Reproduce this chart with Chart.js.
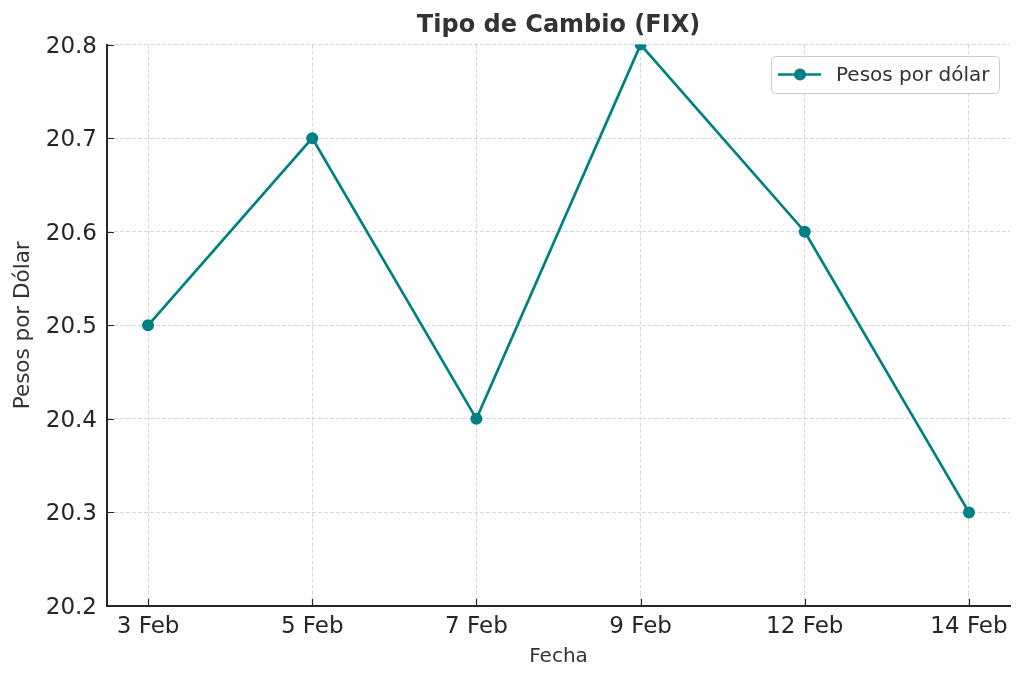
<!DOCTYPE html>
<html>
<head>
<meta charset="utf-8">
<script src="https://cdn.jsdelivr.net/npm/chart.js@4"></script>
<style>
	html, body { margin: 0; padding: 0; background: #fff; }
	#wrap { width: 1024px; height: 681px; }
</style>
</head>
<body>
<div id="wrap"><canvas id="fixChart" width="1024" height="681"></canvas></div>
<script>
// datos del tipo de cambio
const fechas = ['3 Feb', '5 Feb', '7 Feb', '9 Feb', '12 Feb', '14 Feb'];
const pesosPorDolar = [20.5, 20.7, 20.4, 20.8, 20.6, 20.3];
const yTicks = [20.2, 20.3, 20.4, 20.5, 20.6, 20.7, 20.8];

const teal = '#008080';
const dark = '#262626';
const gridColor = '#d6d6d6';
const font = "'DejaVu Sans', sans-serif";
const tituloTexto = 'Tipo de Cambio (FIX)';

const puntos = fechas.map((f, i) => ({ x: i, y: pesosPorDolar[i] }));

// ticks hacia dentro, como en matplotlib
const innerTicks = {
	id: 'innerTicks',
	afterDraw(chart){
		const ctx = chart.ctx;
		const area = chart.chartArea;
		const x = chart.scales.x, y = chart.scales.y;
		ctx.save();
		ctx.strokeStyle = dark;
		ctx.lineWidth = 1.2;
		ctx.beginPath();
		x.ticks.forEach(t => {
			const px = Math.round(x.getPixelForValue(t.value)) + 0.5;
			ctx.moveTo(px, area.bottom);
			ctx.lineTo(px, area.bottom - 7);
		});
		y.ticks.forEach(t => {
			const py = Math.round(y.getPixelForValue(t.value)) + 0.5;
			ctx.moveTo(area.left, py);
			ctx.lineTo(area.left + 7, py);
		});
		ctx.stroke();
		ctx.restore();
	}
};

// titulo centrado sobre el area del grafico (el de chart.js solo reserva el espacio)
const axesTitle = {
	id: 'axesTitle',
	afterDraw(chart){
		const ctx = chart.ctx;
		const area = chart.chartArea;
		ctx.save();
		ctx.fillStyle = '#333333';
		ctx.font = 'bold 24px ' + font;
		ctx.textAlign = 'center';
		ctx.textBaseline = 'alphabetic';
		ctx.fillText(tituloTexto, (area.left + area.right) / 2, 32);
		ctx.restore();
	}
};

// leyenda con caja, arriba a la derecha
const boxLegend = {
	id: 'boxLegend',
	afterDraw(chart){
		const ctx = chart.ctx;
		const ds = chart.data.datasets[0];
		const bx = 771, by = 56, bw = 228, bh = 37;
		ctx.save();
		ctx.fillStyle = 'rgba(255,255,255,0.85)';
		ctx.strokeStyle = '#cccccc';
		ctx.lineWidth = 1;
		ctx.beginPath();
		ctx.roundRect(bx + 0.5, by + 0.5, bw, bh, 4);
		ctx.fill();
		ctx.stroke();
		const cy = by + bh / 2;
		ctx.strokeStyle = ds.borderColor;
		ctx.lineWidth = ds.borderWidth;
		ctx.beginPath();
		ctx.moveTo(bx + 7, cy);
		ctx.lineTo(bx + 50, cy);
		ctx.stroke();
		ctx.fillStyle = ds.pointBackgroundColor;
		ctx.beginPath();
		ctx.arc(bx + 29, cy, ds.pointRadius, 0, Math.PI * 2);
		ctx.fill();
		ctx.fillStyle = '#333333';
		ctx.font = '20px ' + font;
		ctx.textBaseline = 'middle';
		ctx.fillText(ds.label, bx + 65, cy + 1);
		ctx.restore();
	}
};

new Chart(document.getElementById('fixChart'), {
	type: 'line',
	data: {
		datasets: [{
			label: 'Pesos por dólar',
			data: puntos,
			borderColor: teal,
			backgroundColor: teal,
			pointBackgroundColor: teal,
			pointBorderWidth: 0,
			borderWidth: 2.7,
			pointRadius: 6,
			tension: 0,
			clip: 0
		}]
	},
	options: {
		responsive: false,
		animation: false,
		layout: { padding: { left: 0, right: 14, top: 0, bottom: 0 } },
		plugins: {
			legend: { display: false },
			tooltip: { enabled: false },
			title: {
				display: true,
				text: tituloTexto,
				color: 'rgba(0,0,0,0)',
				font: { family: font, size: 23, weight: 'bold', lineHeight: 1.2 },
				padding: { top: 11, bottom: 6 }
			}
		},
		scales: {
			x: {
				type: 'linear',
				min: -0.25,
				max: 5.25,
				afterBuildTicks(scale){
					scale.ticks = fechas.map((f, i) => ({ value: i }));
				},
				afterFit(scale){ scale.height = 75; },
				ticks: {
					color: dark,
					font: { family: font, size: 23 },
					padding: 7,
					maxRotation: 0,
					autoSkip: false,
					callback: (v) => fechas[v]
				},
				grid: {
					color: gridColor,
					lineWidth: 1,
					drawTicks: false
				},
				border: { display: true, color: dark, width: 2, dash: [4, 2] },
				title: {
					display: true,
					text: 'Fecha',
					color: '#333333',
					font: { family: font, size: 20 },
					padding: { top: 0, bottom: 12 }
				}
			},
			y: {
				min: 20.2,
				max: 20.8,
				afterBuildTicks(scale){
					scale.ticks = yTicks.map(v => ({ value: v }));
				},
				afterFit(scale){ scale.width = 107; },
				ticks: {
					color: dark,
					font: { family: font, size: 23 },
					padding: 10,
					labelOffset: 2,
					callback: (v) => v.toFixed(1)
				},
				grid: {
					color: gridColor,
					lineWidth: 1,
					drawTicks: false
				},
				border: { display: true, color: dark, width: 2, dash: [4, 2] },
				title: {
					display: true,
					text: 'Pesos por Dólar',
					color: '#333333',
					font: { family: font, size: 21.5 },
					padding: { top: 11, bottom: 0 }
				}
			}
		}
	},
	plugins: [innerTicks, axesTitle, boxLegend]
});
</script>
</body>
</html>
